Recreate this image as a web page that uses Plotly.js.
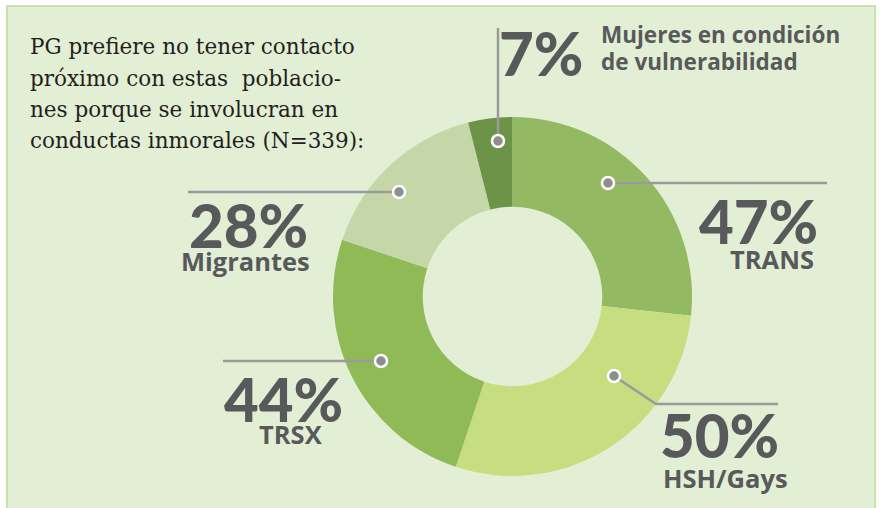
<!DOCTYPE html>
<html>
<head>
<meta charset="utf-8">
<script src="https://cdn.plot.ly/plotly-3.0.1.min.js"></script>
<style>html,body{margin:0;padding:0;background:#fff;}#chart{width:882px;height:508px;}</style>
</head>
<body>
<div id="chart"></div>
<script>
// ---- data ----
var categories = ["TRANS", "HSH/Gays", "TRSX", "Migrantes", "Mujeres en condición de vulnerabilidad"];
var values = [47, 50, 44, 28, 7];
var pctLabels = ["47%", "50%", "44%", "28%", "7%"];
var nameLabels = ["TRANS", "HSH/Gays", "TRSX", "Migrantes", "Mujeres en condición|de vulnerabilidad"];
var titleLines = ["PG prefiere no tener contacto", "próximo con estas\u00a0 poblacio-", "nes porque se involucran en", "conductas inmorales (N=339):"];

// ---- styles ----
var W = 882, H = 508;
var sliceColors = ["#93BA63", "#C7DE80", "#8FBA56", "#C5D7A8", "#6C9347"];
var bg = "#E2EFD4";
var txt = "#58595B";
var lineCol = "#9A9A9A";
var dotCol = "#8E8E8E";
var numFont = "Lato, 'Open Sans', sans-serif";
var nameFont = "'Open Sans', Lato, sans-serif";

function px(x) { return x / W; }
function py(y) { return 1 - y / H; }

// pie geometry (pixel)
var cx = 512.5, cy = 296.5, R = 179.5;

var trace = {
  type: "pie",
  values: values,
  labels: categories,
  sort: false,
  direction: "clockwise",
  rotation: 0,
  hole: 0.5,
  textinfo: "none",
  hoverinfo: "label+value",
  marker: { colors: sliceColors, line: { width: 0 } },
  domain: { x: [px(cx - R), px(cx + R)], y: [py(cy + R), py(cy - R)] },
  showlegend: false
};

// leader lines & dots (pixel coordinates)
var leaders = [
  { pts: [[608, 183], [827, 183]], dot: [608, 183] },
  { pts: [[614, 376], [656, 404], [778, 404]], dot: [614, 376] },
  { pts: [[223, 361], [381, 361]], dot: [381, 361] },
  { pts: [[188, 192], [399, 192]], dot: [399, 192] },
  { pts: [[498, 28], [498, 141]], dot: [498, 141] }
];

// label placement: [pctCenterX, pctBaseline, nameX, nameBaseline, nameAnchor]
var place = [
  [758, 243, 772, 268, "center"],
  [719, 457, 725, 487, "center"],
  [283, 421, 291, 443, "center"],
  [249, 247, 245, 270, "center"],
  [541, 75, 600, 43, "left"]
];

var shapes = [
  { type: "rect", xref: "paper", yref: "paper", x0: 0, x1: 1, y0: py(5), y1: 1, fillcolor: "#ffffff", line: { width: 0 }, layer: "above" },
  { type: "rect", xref: "paper", yref: "paper", x0: 0, x1: px(6), y0: 0, y1: 1, fillcolor: "#ffffff", line: { width: 0 }, layer: "above" },
  { type: "rect", xref: "paper", yref: "paper", x0: px(876), x1: 1, y0: 0, y1: 1, fillcolor: "#ffffff", line: { width: 0 }, layer: "above" },
  { type: "path", xref: "paper", yref: "paper",
    path: "M" + px(7) + "," + 0 + " L" + px(7) + "," + py(6) + " L" + px(875) + "," + py(6) + " L" + px(875) + "," + 0,
    line: { color: "#C9E2AD", width: 2 }, layer: "above" }
];

leaders.forEach(function (l) {
  var p = l.pts.map(function (q, i) { return (i ? "L" : "M") + px(q[0]) + "," + py(q[1]); }).join(" ");
  shapes.push({ type: "path", xref: "paper", yref: "paper", path: p, line: { color: lineCol, width: 2.5 }, layer: "above" });
});
leaders.forEach(function (l) {
  var r = 6;
  shapes.push({ type: "circle", xref: "paper", yref: "paper",
    x0: px(l.dot[0] - r), x1: px(l.dot[0] + r), y0: py(l.dot[1] + r), y1: py(l.dot[1] - r),
    fillcolor: dotCol, line: { color: "#ffffff", width: 2.5 }, layer: "above" });
});

var annotations = [];
function addText(text, x, baseline, size, anchor, family, color, asc, weight) {
  annotations.push({
    xref: "paper", yref: "paper", x: px(x), y: py(baseline - asc * size),
    xanchor: anchor, yanchor: "middle", showarrow: false, text: text, borderpad: 0,
    font: { family: family, size: size, color: color, weight: weight }
  });
}
var pctSize = 60, nameSize = 25.5;
for (var i = 0; i < place.length; i++) {
  var pl = place[i];
  addText(pctLabels[i], pl[0], pl[1], pctSize, "center", numFont, txt, 0.37, 900);
  var parts = nameLabels[i].split("|");
  if (parts.length === 1) {
    addText(parts[0], pl[2], pl[3], nameSize, pl[4], nameFont, txt, 0.36, 700);
  } else {
    addText(parts[0], pl[2], pl[3], 22.5, pl[4], nameFont, txt, 0.36, 700);
    addText(parts[1], pl[2], pl[3] + 27, 22.5, pl[4], nameFont, txt, 0.36, 700);
  }
}
var titleBase = [54, 86, 117, 148];
titleLines.forEach(function (t, k) {
  annotations.push({
    xref: "paper", yref: "paper", x: px(29), y: py(titleBase[k] - 0.36 * 21.5),
    xanchor: "left", yanchor: "middle", showarrow: false, text: t, borderpad: 0,
    font: { family: "'DejaVu Serif', serif", size: 21.5, color: "#231F20", weight: 300 }
  });
});

var layout = {
  width: W, height: H,
  margin: { l: 0, r: 0, t: 0, b: 0 },
  paper_bgcolor: bg,
  plot_bgcolor: bg,
  showlegend: false,
  shapes: shapes,
  annotations: annotations
};

Plotly.newPlot("chart", [trace], layout, { displayModeBar: false, staticPlot: true });
</script>
</body>
</html>
